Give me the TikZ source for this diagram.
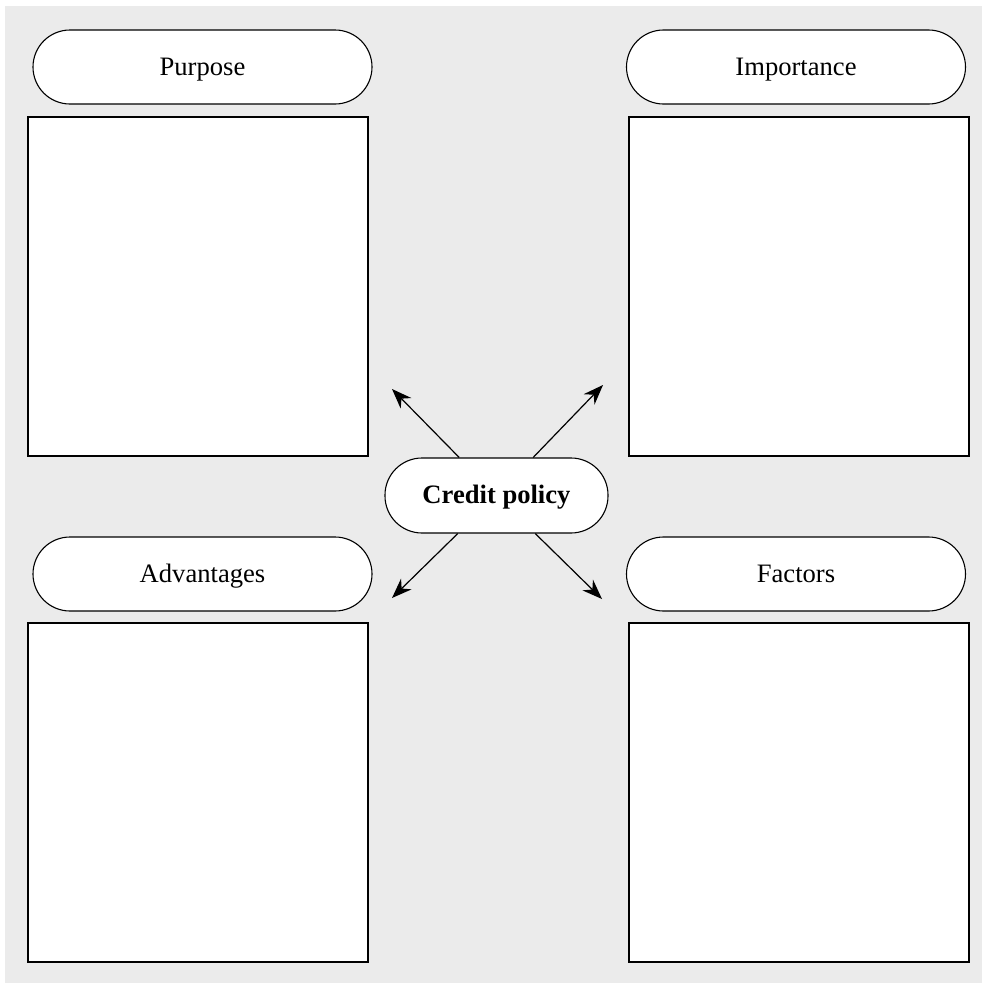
\documentclass[tikz,border=0pt]{standalone}
\usepackage{fontspec}
\setmainfont{Liberation Serif}
\usetikzlibrary{arrows.meta}
\definecolor{bggray}{HTML}{EBEBEB}
\begin{document}
\begin{tikzpicture}[x=1pt,y=-1pt,
  pill/.style={draw=black, fill=white, line width=1.1pt, rounded corners=37pt,
    minimum width=339pt, minimum height=74pt, inner sep=0pt, text height=20pt, text depth=4pt,
    font=\fontsize{26.6}{30}\selectfont},
  cpill/.style={pill, minimum width=223pt, minimum height=75pt, font=\fontsize{26.6}{30}\selectfont\bfseries},
  panel/.style={draw=black, fill=white, line width=1.2pt, minimum width=340pt, minimum height=339pt, inner sep=0pt},
  arr/.style={line width=1.2pt, -{Stealth[length=20pt,width=15pt]}}]
\useasboundingbox (0,0) rectangle (982,983);
\fill[bggray] (5,6) rectangle (983,984);
\node[pill] (purpose) at (202.5,67) {Purpose};
\node[pill] (importance) at (796,67) {Importance};
\node[pill] (advantages) at (202.5,574) {Advantages};
\node[pill] (factors) at (796,574) {Factors};
\node[panel] (bpurpose) at (198,286.5) {};
\node[panel] (bimportance) at (799,286.5) {};
\node[panel] (badvantages) at (198,792.5) {};
\node[panel] (bfactors) at (799,792.5) {};
\node[cpill] (cp) at (496.5,495.5) {Credit policy};
\coordinate (tl) at (392,389);
\coordinate (tr) at (603,385);
\coordinate (bl) at (392,598);
\coordinate (br) at (602,599);
\draw[arr] (cp) -- (tl);
\draw[arr] (cp) -- (tr);
\draw[arr] (cp) -- (bl);
\draw[arr] (cp) -- (br);
\end{tikzpicture}
\end{document}
